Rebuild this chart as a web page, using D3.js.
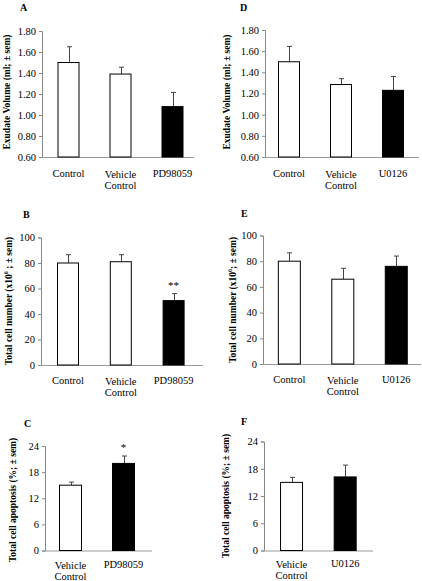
<!DOCTYPE html>
<html><head><meta charset="utf-8">
<script src="https://cdn.jsdelivr.net/npm/d3@7"></script>
<style>html,body{margin:0;padding:0;background:#fff;}svg{display:block;}</style>
</head><body>
<svg id="chart" width="422" height="581"></svg>
<script>
// ---- data ----
const catsA = [["Control"], ["Vehicle", "Control"], ["PD98059"]];
const valsA = [1.50, 1.39, 1.08];
const errA  = [1.65, 1.455, 1.215];
const catsD = [["Control"], ["Vehicle", "Control"], ["U0126"]];
const valsD = [1.50, 1.285, 1.23];
const errD  = [1.645, 1.34, 1.36];
const catsB = [["Control"], ["Vehicle", "Control"], ["PD98059"]];
const valsB = [80, 81, 50.5];
const errB  = [86.5, 86.5, 56];
const sigB  = ["", "", "**"];
const catsE = [["Control"], ["Vehicle", "Control"], ["U0126"]];
const valsE = [80, 66, 76];
const errE  = [86.5, 74.5, 84];
const catsC = [["Vehicle", "Control"], ["PD98059"]];
const valsC = [15, 20];
const errC  = [15.7, 21.7];
const sigC  = ["", "*"];
const catsF = [["Vehicle", "Control"], ["U0126"]];
const valsF = [15, 16.2];
const errF  = [16.1, 18.8];
const ticksVol = [0.60, 0.80, 1.00, 1.20, 1.40, 1.60, 1.80];
const ticksCell = [0, 20, 40, 60, 80, 100];
const ticksApop = [0, 6, 12, 18, 24];
const fillsThree = ["#fff", "#fff", "#000"];
const fillsTwo = ["#fff", "#000"];

const svg = d3.select("#chart");
const FONT = "'Liberation Serif','Times New Roman',serif";

function panel(o) {
  const g = svg.append("g");
  const y = d3.scaleLinear().domain(o.domain).range([o.yBottom, o.yTop]);
  const x = d3.scalePoint().domain(d3.range(o.vals.length)).range([o.x0, o.x1]).padding(0.5);
  // y axis
  const ax = g.append("g").attr("transform", `translate(${o.axisX},0)`)
    .call(d3.axisLeft(y).tickValues(o.ticks).tickFormat(o.fmt).tickSize(3).tickPadding(3));
  ax.select(".domain").attr("stroke", "#888");
  ax.selectAll(".tick line").attr("stroke", "#888");
  ax.selectAll(".tick text").attr("font-family", FONT).attr("font-size", 10.5).attr("fill", "#000");
  // x axis line
  g.append("line").attr("x1", o.axisX).attr("x2", o.axisEnd)
    .attr("y1", o.yBottom + 0.5).attr("y2", o.yBottom + 0.5).attr("stroke", "#999");
  // error bars
  o.vals.forEach((v, i) => {
    const cx = Math.round(x(i)) + 0.5;
    g.append("line").attr("x1", cx).attr("x2", cx).attr("y1", y(v)).attr("y2", y(o.err[i]))
      .attr("stroke", "#444").attr("stroke-width", 1);
    g.append("line").attr("x1", cx - 2.5).attr("x2", cx + 2.5).attr("y1", y(o.err[i])).attr("y2", y(o.err[i]))
      .attr("stroke", "#444").attr("stroke-width", 1);
  });
  // bars
  g.selectAll("rect.bar").data(o.vals).join("rect").attr("class", "bar")
    .attr("x", (d, i) => x(i) - o.bw / 2 + 0.5)
    .attr("width", o.bw - 1)
    .attr("y", d => y(d))
    .attr("height", d => o.yBottom - y(d))
    .attr("fill", (d, i) => o.fills[i])
    .attr("stroke", "#000").attr("stroke-width", 1);
  // significance
  if (o.sig) o.sig.forEach((s, i) => {
    if (!s) return;
    g.append("text").attr("x", x(i)).attr("y", y(o.err[i]) - 5).attr("text-anchor", "middle")
      .attr("font-family", FONT).attr("font-size", 11).text(s);
  });
  // category labels
  o.cats.forEach((lines, i) => {
    lines.forEach((t, j) => {
      g.append("text").attr("x", x(i)).attr("y", o.catY + (lines.length > 1 ? 1 : 0) + j * 11)
        .attr("text-anchor", "middle").attr("font-family", FONT).attr("font-size", 10.5).text(t);
    });
  });
  // panel letter
  g.append("text").attr("x", o.letterX).attr("y", o.letterY).attr("font-family", FONT)
    .attr("font-weight", "bold").attr("font-size", 10).text(o.letter);
  // y title
  const tt = g.append("text").attr("transform", `translate(${o.titleX},${o.titleY}) rotate(-90)`)
    .attr("text-anchor", "middle").attr("font-family", FONT).attr("font-weight", "bold")
    .attr("font-size", 9.5);
  o.title.forEach(p => {
    const ts = tt.append("tspan").text(p.t);
    if (p.sup) ts.attr("font-size", 6).attr("dy", -4);
    if (p.after) ts.attr("dy", 4);
  });
}

const f2 = d3.format(".2f");
const f0 = d3.format("d");

panel({cats: catsA, vals: valsA, err: errA, fills: fillsThree, domain: [0.6, 1.8], ticks: ticksVol, fmt: f2,
  yTop: 31, yBottom: 157, axisX: 42, axisEnd: 194, x0: 42.5, x1: 198.5, bw: 22, catY: 177,
  letter: "A", letterX: 20, letterY: 11, titleX: 10, titleY: 92,
  title: [{t: "Exudate Volume (ml; \u00b1 sem)"}]});
panel({cats: catsD, vals: valsD, err: errD, fills: fillsThree, domain: [0.6, 1.8], ticks: ticksVol, fmt: f2,
  yTop: 30, yBottom: 157, axisX: 265, axisEnd: 419, x0: 263, x1: 419, bw: 22, catY: 177,
  letter: "D", letterX: 240, letterY: 11, titleX: 230, titleY: 92,
  title: [{t: "Exudate Volume (ml; \u00b1 sem)"}]});
panel({cats: catsB, vals: valsB, err: errB, sig: sigB, fills: fillsThree, domain: [0, 100], ticks: ticksCell, fmt: f0,
  yTop: 237.5, yBottom: 365, axisX: 41, axisEnd: 203, x0: 41.6, x1: 200, bw: 22, catY: 384,
  letter: "B", letterX: 23, letterY: 218, titleX: 12, titleY: 301,
  title: [{t: "Total cell number (x10"}, {t: "6", sup: true}, {t: " ; \u00b1 sem)", after: true}]});
panel({cats: catsE, vals: valsE, err: errE, fills: fillsThree, domain: [0, 100], ticks: ticksCell, fmt: f0,
  yTop: 235.5, yBottom: 364, axisX: 263, axisEnd: 421, x0: 262.6, x1: 423, bw: 23, catY: 383,
  letter: "E", letterX: 241, letterY: 217, titleX: 236, titleY: 300,
  title: [{t: "Total cell number (x10"}, {t: "6", sup: true}, {t: "; \u00b1 sem)", after: true}]});
panel({cats: catsC, vals: valsC, err: errC, sig: sigC, fills: fillsTwo, domain: [0, 24], ticks: ticksApop, fmt: f0,
  yTop: 446, yBottom: 550.5, axisX: 45, axisEnd: 152, x0: 44, x1: 150, bw: 23, catY: 568,
  letter: "C", letterX: 24, letterY: 427, titleX: 16, titleY: 500,
  title: [{t: "Total cell apoptosis (%; \u00b1 sem)"}]});
panel({cats: catsF, vals: valsF, err: errF, fills: fillsTwo, domain: [0, 24], ticks: ticksApop, fmt: f0,
  yTop: 441.5, yBottom: 550.5, axisX: 264, axisEnd: 373, x0: 264.7, x1: 372, bw: 23, catY: 567,
  letter: "F", letterX: 241, letterY: 425, titleX: 229, titleY: 496,
  title: [{t: "Total cell apoptosis (%; \u00b1 sem)"}]});
</script>
</body></html>
